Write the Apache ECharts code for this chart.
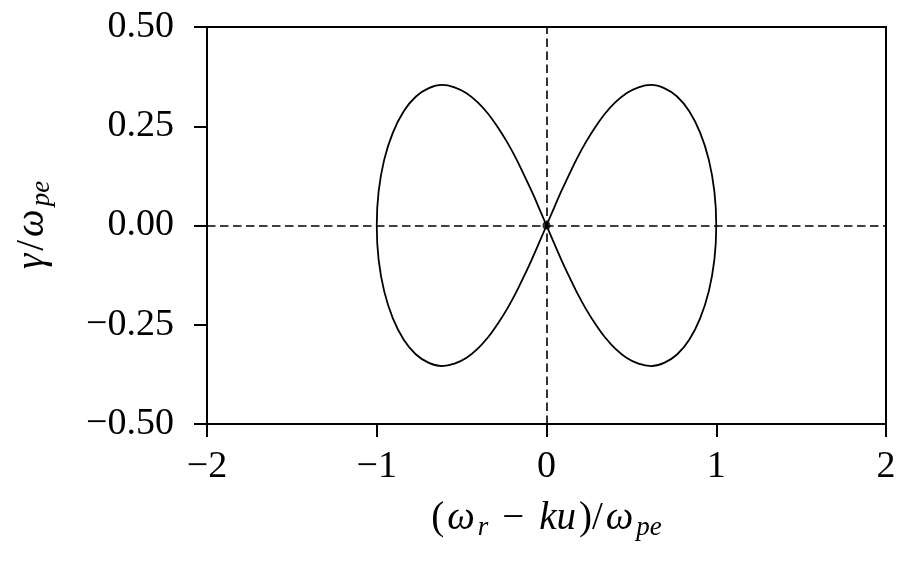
<!DOCTYPE html>
<html>
<head>
<meta charset="utf-8">
<script src="https://cdn.jsdelivr.net/npm/echarts@6/dist/echarts.min.js"></script>
<style>
  html, body { margin: 0; padding: 0; background: #fff; }
  #chart { width: 909px; height: 562px; }
</style>
</head>
<body>
<div id="chart"></div>
<script>
// points, in drawing order
var curveX = [
  0, 0.044, 0.088, 0.134, 0.182, 0.232, 0.286, 0.343, 0.405, 0.471, 0.542, 0.616, 0.693, 0.769, 0.841, 0.905, 0.956, 0.989, 1.000,
  0.989, 0.956, 0.905, 0.841, 0.769, 0.693, 0.616, 0.542, 0.471, 0.405, 0.343, 0.286, 0.232, 0.182, 0.134, 0.088, 0.044, 0,
  -0.044, -0.088, -0.134, -0.182, -0.232, -0.286, -0.343, -0.405, -0.471, -0.542, -0.616, -0.693, -0.769, -0.841, -0.905, -0.956, -0.989, -1.000,
  -0.989, -0.956, -0.905, -0.841, -0.769, -0.693, -0.616, -0.542, -0.471, -0.405, -0.343, -0.286, -0.232, -0.182, -0.134, -0.088, -0.044, 0
];
var curveY = [
  0, -0.044, -0.087, -0.129, -0.171, -0.210, -0.247, -0.281, -0.310, -0.333, -0.348, -0.354, -0.346, -0.325, -0.288, -0.234, -0.166, -0.086, 0,
  0.086, 0.166, 0.234, 0.288, 0.325, 0.346, 0.354, 0.348, 0.333, 0.310, 0.281, 0.247, 0.210, 0.171, 0.129, 0.087, 0.044, 0,
  -0.044, -0.087, -0.129, -0.171, -0.210, -0.247, -0.281, -0.310, -0.333, -0.348, -0.354, -0.346, -0.325, -0.288, -0.234, -0.166, -0.086, 0,
  0.086, 0.166, 0.234, 0.288, 0.325, 0.346, 0.354, 0.348, 0.333, 0.310, 0.281, 0.247, 0.210, 0.171, 0.129, 0.087, 0.044, 0
];
var originPoint = [[0, 0]];
var xTicks = [-2, -1, 0, 1, 2];
var yTicks = [-0.5, -0.25, 0, 0.25, 0.5];

var FONT = '"Liberation Serif", "DejaVu Serif", serif';

function minus(s) { return s.replace('-', '\u2212'); }

var curve = curveX.map(function (x, i) { return [x, curveY[i]]; });

var rich = {
  m: { fontFamily: FONT, fontSize: 39, fontStyle: 'italic', color: '#000', padding: [0, 2, 0, 2] },
  n: { fontFamily: FONT, fontSize: 39, color: '#000', padding: [0, 1, 0, 1] },
  o: { fontFamily: FONT, fontSize: 39, color: '#000', padding: [0, 13, 0, 13] },
  s: { fontFamily: FONT, fontSize: 27, fontStyle: 'italic', color: '#000', padding: [18, 1, 0, 1] }
};

var chart = echarts.init(document.getElementById('chart'));
chart.setOption({
  animation: false,
  grid: {
    left: 207, right: 23, top: 27, bottom: 138,
    show: true, borderColor: '#000', borderWidth: 2
  },
  xAxis: {
    type: 'value',
    min: xTicks[0], max: xTicks[xTicks.length - 1], interval: 1,
    splitLine: { show: false },
    axisLine: { onZero: false, lineStyle: { color: '#000', width: 2 } },
    axisTick: { inside: false, length: 13, lineStyle: { color: '#000', width: 2 } },
    axisLabel: {
      margin: 24, color: '#000', fontFamily: FONT, fontSize: 38,
      formatter: function (v) { return minus(String(v)); }
    },
    name: '{n|(}{m|ω}{s|r}{o|\u2212}{m|ku}{n|)/}{m|ω}{s|pe}',
    nameLocation: 'middle', nameGap: 72,
    nameTextStyle: { rich: rich }
  },
  yAxis: {
    type: 'value',
    min: yTicks[0], max: yTicks[yTicks.length - 1], interval: 0.25,
    splitLine: { show: false },
    axisLine: { onZero: false, lineStyle: { color: '#000', width: 2 } },
    axisTick: { inside: false, length: 13, lineStyle: { color: '#000', width: 2 } },
    axisLabel: {
      margin: 33, color: '#000', fontFamily: FONT, fontSize: 38,
      formatter: function (v) { return minus(v.toFixed(2)); }
    },
    name: '{m|γ}{n|/}{m|ω}{s|pe}',
    nameLocation: 'middle', nameGap: 152, nameRotate: 90,
    nameTextStyle: { rich: rich }
  },
  series: [
    {
      type: 'line',
      data: curve,
      smooth: 0.3,
      symbol: 'none',
      lineStyle: { color: '#000', width: 1.8 },
      markLine: {
        silent: true,
        symbol: 'none',
        label: { show: false },
        lineStyle: { color: '#000', width: 1.6, type: [8.5, 4.5] },
        data: [{ xAxis: 0 }, { yAxis: 0 }]
      },
      z: 3
    },
    {
      type: 'scatter',
      data: originPoint,
      symbolSize: 8,
      itemStyle: { color: '#000' },
      z: 4
    }
  ]
});
</script>
</body>
</html>
